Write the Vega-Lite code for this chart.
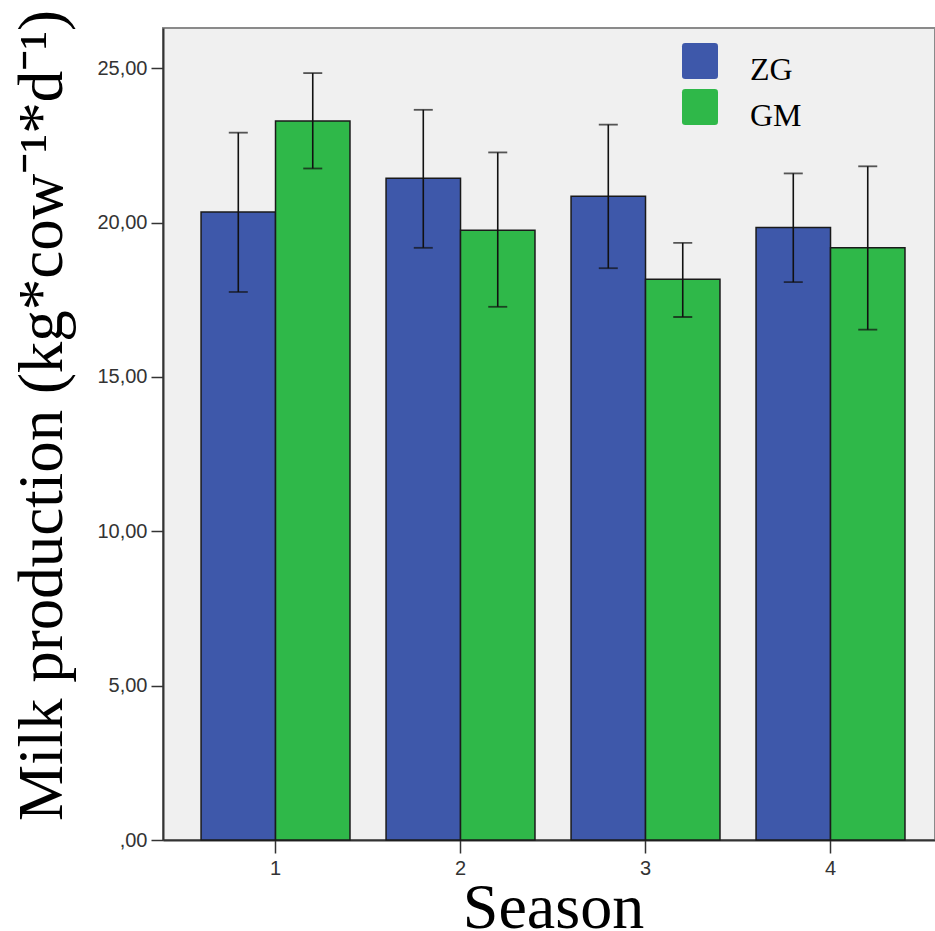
{
  "$schema": "https://vega.github.io/schema/vega-lite/v6.json",
  "autosize": {"type": "none"},
  "padding": {"left": 163, "top": 28, "right": 0, "bottom": 91},
  "width": 772,
  "height": 812,
  "background": "white",
  "config": {
    "view": {"fill": "#f0f0f0", "stroke": "#8a8a8a", "strokeWidth": 2},
    "axis": {"grid": false}
  },
  "data": {
    "values": [
      {"Season": "1", "Group": "ZG", "mean": 20.34, "lo": 17.75, "hi": 22.91},
      {"Season": "1", "Group": "GM", "mean": 23.29, "lo": 21.75, "hi": 24.84},
      {"Season": "2", "Group": "ZG", "mean": 21.43, "lo": 19.18, "hi": 23.65},
      {"Season": "2", "Group": "GM", "mean": 19.75, "lo": 17.27, "hi": 22.27},
      {"Season": "3", "Group": "ZG", "mean": 20.85, "lo": 18.52, "hi": 23.17},
      {"Season": "3", "Group": "GM", "mean": 18.16, "lo": 16.94, "hi": 19.34},
      {"Season": "4", "Group": "ZG", "mean": 19.84, "lo": 18.07, "hi": 21.59},
      {"Season": "4", "Group": "GM", "mean": 19.18, "lo": 16.53, "hi": 21.82}
    ]
  },
  "encoding": {
    "x": {
      "field": "Season",
      "type": "ordinal",
      "scale": {"paddingInner": 0.195, "paddingOuter": 0.184, "align": 0.559},
      "axis": {
        "labelAngle": 0,
        "labelFont": "Liberation Sans",
        "labelFontSize": 20,
        "labelColor": "#333333",
        "labelPadding": 5,
        "tickSize": 13,
        "tickWidth": 1.5,
        "tickColor": "#333333",
        "domainColor": "#333333",
        "domainWidth": 2,
        "title": "Season",
        "titleFont": "Liberation Serif",
        "titleFontSize": 64,
        "titleFontWeight": "normal",
        "titleColor": "black",
        "titleX": 390,
        "titleY": 87,
        "titleBaseline": "alphabetic",
        "titleAlign": "center"
      }
    },
    "xOffset": {"field": "Group", "type": "nominal", "sort": ["ZG", "GM"], "scale": {"paddingInner": 0, "paddingOuter": 0}}
  },
  "layer": [
    {
      "mark": {"type": "bar", "stroke": "#1a1a1a", "strokeWidth": 1.5},
      "encoding": {
        "y": {
          "field": "mean",
          "type": "quantitative",
          "scale": {"domain": [0, 26.3], "nice": false, "zero": true},
          "axis": {
            "values": [0, 5, 10, 15, 20, 25],
            "labelExpr": "datum.value == 0 ? ',00' : replace(format(datum.value, '.2f'), '.', ',')",
            "labelFont": "Liberation Sans",
            "labelFontSize": 20,
            "labelColor": "#333333",
            "labelPadding": 4,
            "tickSize": 12,
            "tickWidth": 1.5,
            "tickColor": "#333333",
            "domainColor": "#333333",
            "domainWidth": 2,
            "title": "Milk production (kg*cow⁻¹*d⁻¹)",
            "titleFont": "Liberation Serif",
            "titleFontSize": 63,
            "titleFontWeight": "normal",
            "titleColor": "black",
            "titleAngle": -90,
            "titleX": -102,
            "titleY": 387,
            "titleBaseline": "alphabetic",
            "titleAlign": "center"
          }
        },
        "color": {
          "field": "Group",
          "type": "nominal",
          "sort": ["ZG", "GM"],
          "scale": {"domain": ["ZG", "GM"], "range": ["#3e58aa", "#2fb849"]},
          "legend": {
            "title": null,
            "orient": "none",
            "legendX": 519,
            "legendY": 24,
            "padding": 0,
            "symbolType": "M-0.82,-1.5 L0.82,-1.5 Q1,-1.5 1,-1.32 L1,0.32 Q1,0.5 0.82,0.5 L-0.82,0.5 Q-1,0.5 -1,0.32 L-1,-1.32 Q-1,-1.5 -0.82,-1.5 Z",
            "symbolSize": 1296,
            "symbolStrokeWidth": 0,
            "symbolOpacity": 1,
            "labelFont": "Liberation Serif",
            "labelFontSize": 32,
            "labelColor": "black",
            "labelOffset": 32,
            "labelBaseline": "middle",
            "rowPadding": 3
          }
        }
      }
    },
    {
      "mark": {"type": "rule", "color": "#111111", "strokeWidth": 1.6},
      "encoding": {
        "y": {"field": "lo", "type": "quantitative"},
        "y2": {"field": "hi"}
      }
    },
    {
      "mark": {"type": "tick", "orient": "horizontal", "color": "#111111", "thickness": 1.8, "size": 19},
      "encoding": {"y": {"field": "lo", "type": "quantitative"}}
    },
    {
      "mark": {"type": "tick", "orient": "horizontal", "color": "#111111", "thickness": 1.8, "size": 19},
      "encoding": {"y": {"field": "hi", "type": "quantitative"}}
    }
  ]
}
